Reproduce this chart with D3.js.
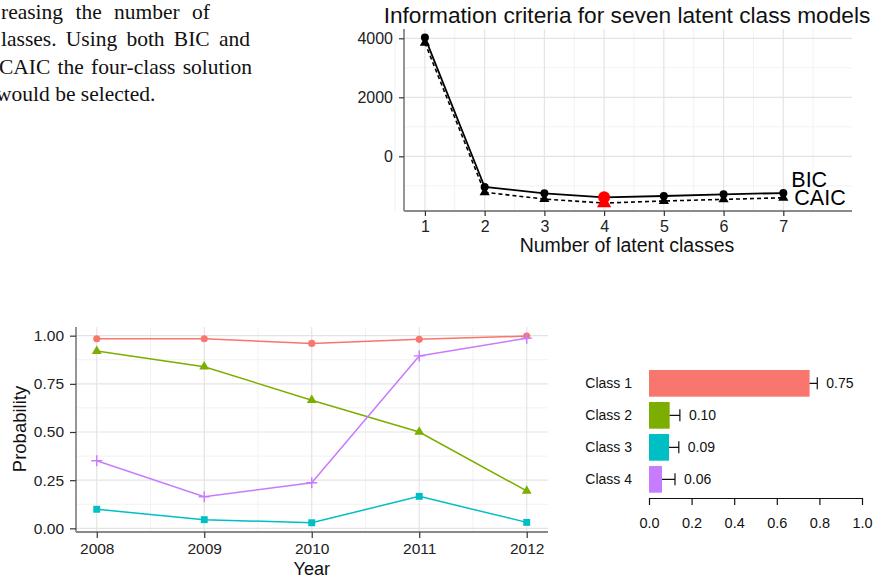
<!DOCTYPE html>
<html>
<head>
<meta charset="utf-8">
<script src="https://cdn.jsdelivr.net/npm/d3@7"></script>
<style>
  body { margin: 0; background: #fff; }
  svg { display: block; }
</style>
</head>
<body>
<div id="chart"></div>
<script>
// --- data ---
const textLines = ["reasing the number of", "lasses. Using both BIC and", "CAIC the four-class solution", "would be selected."];

const nClasses = [1, 2, 3, 4, 5, 6, 7];
const bic = [4030, -1040, -1255, -1390, -1345, -1290, -1245];
const caic = [3850, -1220, -1450, -1585, -1515, -1460, -1405];

const years = [2008, 2009, 2010, 2011, 2012];
const class1 = [0.984, 0.984, 0.960, 0.981, 0.998];
const class2 = [0.920, 0.839, 0.665, 0.500, 0.194];
const class3 = [0.099, 0.045, 0.029, 0.166, 0.031];
const class4 = [0.351, 0.164, 0.237, 0.895, 0.987];

const classNames = ["Class 1", "Class 2", "Class 3", "Class 4"];
const classShare = [0.754, 0.097, 0.094, 0.061];
const classUpper = [0.790, 0.145, 0.140, 0.122];

const colors = ["#F8766D", "#7CAE00", "#00BFC4", "#C77CFF"];

const W = 875, H = 579;
const sans = "'Liberation Sans', Arial, sans-serif";

const svg = d3.select("#chart").append("svg")
    .attr("width", W)
    .attr("height", H);

// --- paper text fragment (top left) ---
const para = svg.append("g")
    .attr("font-family", "'Liberation Serif', 'Times New Roman', serif")
    .attr("font-size", 21.5)
    .attr("fill", "#111");
const lineBase = [19, 46, 73.5, 101];
const lineStart = [1, 1, -1, -4];
const lineEnd = [210, 250, 252, null];
textLines.forEach((t, i) => {
    const el = para.append("text")
        .attr("x", lineStart[i])
        .attr("y", lineBase[i])
        .text(t);
    if (lineEnd[i] != null) {
        // justify by widening the word spaces
        const natural = el.node().getComputedTextLength();
        const gaps = t.split(" ").length - 1;
        const extra = (lineEnd[i] - lineStart[i] - natural) / gaps;
        el.attr("word-spacing", extra);
    }
});

// --- helper for grids ---
function grid(g, xs, ys, xMajor, xMinor, yMajor, yMinor) {
    const [x0, x1] = xs.range();
    const [y0, y1] = ys.range();
    g.selectAll(".gxm").data(xMinor).join("line")
        .attr("x1", d => xs(d)).attr("x2", d => xs(d))
        .attr("y1", y0).attr("y2", y1)
        .attr("stroke", "#f2f2f2").attr("stroke-width", 1);
    g.selectAll(".gym").data(yMinor).join("line")
        .attr("x1", x0).attr("x2", x1)
        .attr("y1", d => ys(d)).attr("y2", d => ys(d))
        .attr("stroke", "#f2f2f2").attr("stroke-width", 1);
    g.selectAll(".gxM").data(xMajor).join("line")
        .attr("x1", d => xs(d)).attr("x2", d => xs(d))
        .attr("y1", y0).attr("y2", y1)
        .attr("stroke", "#e4e4e4").attr("stroke-width", 1.2);
    g.selectAll(".gyM").data(yMajor).join("line")
        .attr("x1", x0).attr("x2", x1)
        .attr("y1", d => ys(d)).attr("y2", d => ys(d))
        .attr("stroke", "#e4e4e4").attr("stroke-width", 1.2);
}

function styleAxis(g, fontSize) {
    g.select(".domain").remove();
    g.selectAll(".tick line").attr("stroke", "#333").attr("stroke-width", 1.2);
    g.selectAll(".tick text")
        .attr("font-family", sans)
        .attr("font-size", fontSize)
        .attr("fill", "#222");
}

// --- top chart: information criteria ---
{
    const xs = d3.scaleLinear().domain([0.65, 8.15]).range([404, 852]);
    const ys = d3.scaleLinear().domain([-1854, 4315]).range([211, 29]);
    const g = svg.append("g");

    grid(g.append("g"), xs, ys,
        nClasses, d3.range(0.5, 8.5, 1),
        [0, 2000, 4000], [-1000, 1000, 3000]);

    // axis lines
    g.append("line").attr("x1", 404).attr("x2", 404).attr("y1", 29).attr("y2", 211)
        .attr("stroke", "#8a8a8a").attr("stroke-width", 1.8);
    g.append("line").attr("x1", 404).attr("x2", 852).attr("y1", 211).attr("y2", 211)
        .attr("stroke", "#8a8a8a").attr("stroke-width", 1.8);

    const yAx = g.append("g").attr("transform", "translate(404,0)")
        .call(d3.axisLeft(ys).tickValues([0, 2000, 4000]).tickFormat(d3.format("d")).tickSize(5).tickPadding(6));
    styleAxis(yAx, 16);
    const xAx = g.append("g").attr("transform", "translate(0,211)")
        .call(d3.axisBottom(xs).tickValues(nClasses).tickFormat(d3.format("d")).tickSize(5).tickPadding(5));
    styleAxis(xAx, 16);

    const bicData = nClasses.map((k, i) => ({ k, v: bic[i] }));
    const caicData = nClasses.map((k, i) => ({ k, v: caic[i] }));
    const line = d3.line().x(d => xs(d.k)).y(d => ys(d.v));

    g.append("path").datum(caicData).attr("d", line)
        .attr("fill", "none").attr("stroke", "#000").attr("stroke-width", 1.6)
        .attr("stroke-dasharray", "4,3");
    g.append("path").datum(bicData).attr("d", line)
        .attr("fill", "none").attr("stroke", "#000").attr("stroke-width", 1.8);

    const best = d3.minIndex(bic);
    g.selectAll(".tri").data(caicData).join("path")
        .attr("transform", d => `translate(${xs(d.k)},${ys(d.v)})`)
        .attr("d", (d, i) => d3.symbol(d3.symbolTriangle, i === best ? 90 : 45)())
        .attr("fill", (d, i) => i === best ? "red" : "#000");
    g.selectAll(".dot").data(bicData).join("circle")
        .attr("cx", d => xs(d.k)).attr("cy", d => ys(d.v))
        .attr("r", (d, i) => i === best ? 6 : 4)
        .attr("fill", (d, i) => i === best ? "red" : "#000");

    g.append("text").attr("x", xs(7) + 8).attr("y", ys(bic[6]) - 6)
        .attr("font-family", sans).attr("font-size", 21.5).text("BIC");
    g.append("text").attr("x", xs(7) + 11).attr("y", ys(caic[6]) + 7)
        .attr("font-family", sans).attr("font-size", 21.5).text("CAIC");

    g.append("text").attr("x", 627).attr("y", 23).attr("text-anchor", "middle")
        .attr("font-family", sans).attr("font-size", 22.7).attr("fill", "#111")
        .text("Information criteria for seven latent class models");
    g.append("text").attr("x", 627).attr("y", 252).attr("text-anchor", "middle")
        .attr("font-family", sans).attr("font-size", 19.5).attr("fill", "#111")
        .text("Number of latent classes");
}

// --- bottom left: probability by year ---
{
    const xs = d3.scaleLinear().domain([2008 - 0.193, 2012 + 0.198]).range([76, 548]);
    const ys = d3.scaleLinear().domain([-0.019, 1.045]).range([532, 327]);
    const g = svg.append("g");

    grid(g.append("g"), xs, ys,
        years, d3.range(2007.5, 2013, 1).filter(d => d > xs.domain()[0] && d < xs.domain()[1]),
        [0, 0.25, 0.5, 0.75, 1], [0.125, 0.375, 0.625, 0.875]);

    g.append("line").attr("x1", 76).attr("x2", 76).attr("y1", 327).attr("y2", 532)
        .attr("stroke", "#8a8a8a").attr("stroke-width", 1.8);
    g.append("line").attr("x1", 76).attr("x2", 548).attr("y1", 532).attr("y2", 532)
        .attr("stroke", "#8a8a8a").attr("stroke-width", 1.8);

    const yAx = g.append("g").attr("transform", "translate(76,0)")
        .call(d3.axisLeft(ys).tickValues([0, 0.25, 0.5, 0.75, 1]).tickFormat(d3.format(".2f")).tickSize(6).tickPadding(6));
    styleAxis(yAx, 15.5);
    const xAx = g.append("g").attr("transform", "translate(0,532)")
        .call(d3.axisBottom(xs).tickValues(years).tickFormat(d3.format("d")).tickSize(6).tickPadding(5));
    styleAxis(xAx, 15.5);

    const series = [class1, class2, class3, class4];
    const shapes = [d3.symbolCircle, d3.symbolTriangle, d3.symbolSquare, null];
    const sizes = [40, 42, 48, 0];
    const line = d3.line().x((d, i) => xs(years[i])).y(d => ys(d));

    series.forEach((s, si) => {
        g.append("path").datum(s).attr("d", line)
            .attr("fill", "none").attr("stroke", colors[si]).attr("stroke-width", 1.5);
        const pts = g.selectAll(null).data(s).join("path")
            .attr("transform", (d, i) => `translate(${xs(years[i])},${ys(d)})`);
        if (shapes[si]) {
            pts.attr("d", d3.symbol(shapes[si], sizes[si])()).attr("fill", colors[si]);
        } else {
            pts.attr("d", "M-5.5,0H5.5M0,-5.5V5.5")
                .attr("stroke", colors[si]).attr("stroke-width", 1.4).attr("fill", "none");
        }
    });

    g.append("text").attr("transform", "translate(26,429) rotate(-90)")
        .attr("text-anchor", "middle").attr("font-family", sans).attr("font-size", 18.5)
        .attr("fill", "#111").text("Probability");
    g.append("text").attr("x", xs(2010)).attr("y", 575).attr("text-anchor", "middle")
        .attr("font-family", sans).attr("font-size", 18).attr("fill", "#111").text("Year");
}

// --- bottom right: class sizes ---
{
    const xs = d3.scaleLinear().domain([0, 1]).range([649, 862]);
    const ys = d3.scaleBand().domain(classNames).range([370, 492.7]).paddingInner(0.167);
    const g = svg.append("g").attr("font-family", sans).attr("font-size", 14).attr("fill", "#111");

    g.selectAll(".bar").data(classNames).join("rect")
        .attr("x", xs(0)).attr("y", d => ys(d))
        .attr("width", (d, i) => xs(classShare[i]) - xs(0))
        .attr("height", ys.bandwidth())
        .attr("fill", (d, i) => colors[i]);

    const mid = d => ys(d) + ys.bandwidth() / 2;
    g.selectAll(".err").data(classNames).join("path")
        .attr("d", (d, i) => {
            const a = xs(classShare[i]), b = xs(classUpper[i]), y = mid(d);
            return `M${a},${y}H${b}M${b},${y - 6}V${y + 6}`;
        })
        .attr("stroke", "#111").attr("stroke-width", 1.2).attr("fill", "none");

    g.selectAll(".val").data(classNames).join("text")
        .attr("x", (d, i) => xs(classUpper[i]) + 9)
        .attr("y", d => mid(d) + 5)
        .text((d, i) => classShare[i].toFixed(2));

    g.selectAll(".lab").data(classNames).join("text")
        .attr("x", 632).attr("y", d => mid(d) + 5)
        .attr("text-anchor", "end")
        .text(d => d);

    const ax = g.append("g").attr("transform", "translate(0,498)")
        .call(d3.axisBottom(xs).ticks(5).tickFormat(d3.format(".1f")).tickSize(7).tickPadding(13).tickSizeOuter(0));
    ax.select(".domain").attr("stroke", "#111").attr("stroke-width", 1.2);
    ax.selectAll(".tick line").attr("stroke", "#111").attr("stroke-width", 1.2);
    ax.selectAll(".tick text").attr("font-family", sans).attr("font-size", 14.5).attr("fill", "#111");
}
</script>
</body>
</html>
